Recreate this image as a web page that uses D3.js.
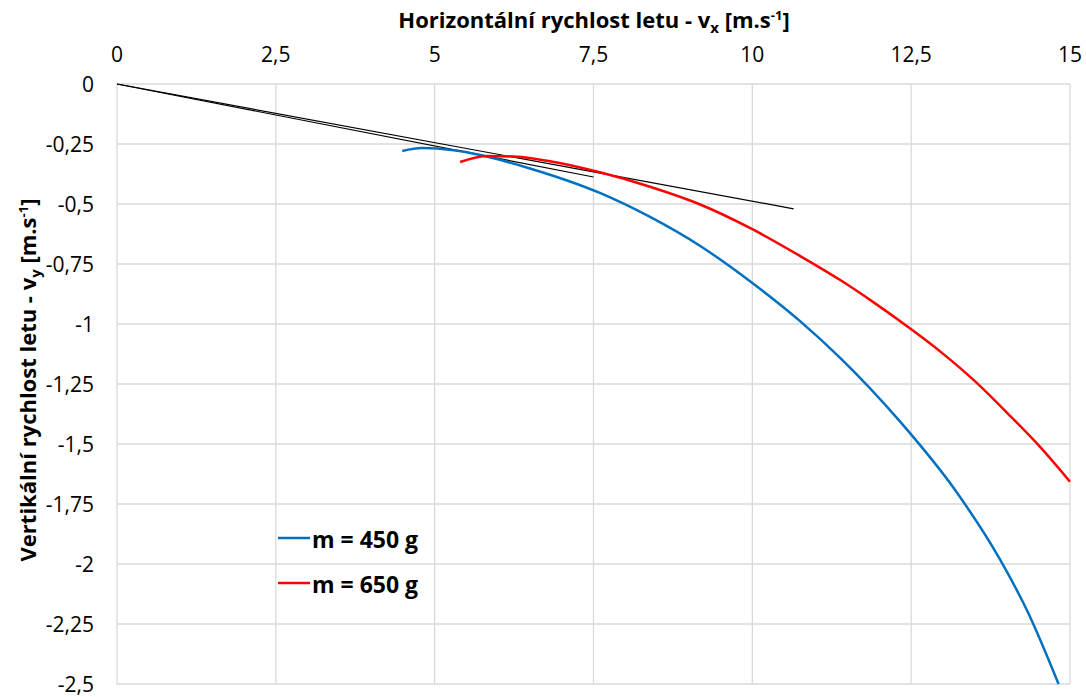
<!DOCTYPE html>
<html>
<head>
<meta charset="utf-8">
<script src="https://cdn.jsdelivr.net/npm/d3@7"></script>
<style>
  body { margin: 0; background: #fff; }
  text { font-family: "Open Sans", "Noto Sans", sans-serif; fill: #000; }
</style>
</head>
<body>
<svg id="chart" width="1086" height="697"></svg>
<script>
// data
const xTicks = [0, 2.5, 5, 7.5, 10, 12.5, 15];
const yTicks = [0, -0.25, -0.5, -0.75, -1, -1.25, -1.5, -1.75, -2, -2.25, -2.5];

const vx450 = [4.49, 4.8, 5.3, 5.72, 6.5, 7.6, 8.39, 9.18, 10.0, 10.76, 11.39, 12.33, 13.2, 13.9, 14.33, 14.82];
const vy450 = [-0.279, -0.267, -0.276, -0.296, -0.352, -0.454, -0.554, -0.675, -0.829, -0.99, -1.143, -1.408, -1.695, -1.982, -2.197, -2.5];

const vx650 = [5.4, 5.83, 6.3, 6.77, 7.6, 8.39, 9.18, 10.0, 10.76, 11.39, 11.91, 12.5, 12.96, 13.49, 14.01, 14.54, 15.0];
const vy650 = [-0.325, -0.30, -0.303, -0.32, -0.368, -0.428, -0.502, -0.605, -0.718, -0.818, -0.91, -1.022, -1.115, -1.235, -1.37, -1.515, -1.657];

// tangents from origin
const tangent450 = [[0, 0], [7.5, -0.3875]];
const tangent650 = [[0, 0], [10.65, -0.52]];

const legendLabels = ["m = 450 g", "m = 650 g"];
const colors = ["#0070c0", "#ff0000"];

const svg = d3.select("#chart");
const plotL = 117, plotR = 1070, plotT = 84, plotB = 684;

const x = d3.scaleLinear().domain([0, 15]).range([plotL, plotR]);
const y = d3.scaleLinear().domain([0, -2.5]).range([plotT, plotB]);

const loc = d3.formatLocale({ decimal: ",", thousands: " ", grouping: [3], currency: ["", ""], minus: "-" });
const fmt = (d) => loc.format("")(d);

// grid
svg.append("g").selectAll("line").data(xTicks).join("line")
  .attr("x1", (d) => x(d)).attr("x2", (d) => x(d))
  .attr("y1", plotT).attr("y2", plotB)
  .attr("stroke", "#d9d9d9").attr("stroke-width", 1.3);
svg.append("g").selectAll("line").data(yTicks).join("line")
  .attr("x1", plotL).attr("x2", plotR)
  .attr("y1", (d) => y(d)).attr("y2", (d) => y(d))
  .attr("stroke", "#d9d9d9").attr("stroke-width", 1.3);

// tick labels
svg.append("g").selectAll("text").data(xTicks).join("text")
  .attr("x", (d) => x(d)).attr("y", 62)
  .attr("text-anchor", "middle").attr("font-size", 21)
  .text(fmt);
svg.append("g").selectAll("text").data(yTicks).join("text")
  .attr("x", 94).attr("y", (d) => y(d) + 8)
  .attr("text-anchor", "end").attr("font-size", 21)
  .text(fmt);

// axis titles
const addTitle = (sel, main, sub) => {
  sel.append("tspan").text(main);
  sel.append("tspan").attr("font-size", 15).attr("dy", 5).text(sub);
  sel.append("tspan").attr("dy", -5).text(" [m.s");
  sel.append("tspan").attr("font-size", 13).attr("dy", -8).text("-1");
  sel.append("tspan").attr("dy", 8).text("]");
};

const xt = svg.append("text").attr("x", 594).attr("y", 28)
  .attr("text-anchor", "middle").attr("font-size", 22).attr("font-weight", "bold");
addTitle(xt, "Horizontální rychlost letu - v", "x");

const yt = svg.append("text").attr("transform", "translate(36,380) rotate(-90)")
  .attr("text-anchor", "middle").attr("font-size", 22).attr("font-weight", "bold");
addTitle(yt, "Vertikální rychlost letu - v", "y");

// lines
const line = d3.line().x((d) => x(d[0])).y((d) => y(d[1]));
const curve = d3.line().x((d) => x(d[0])).y((d) => y(d[1])).curve(d3.curveMonotoneX);

[tangent450, tangent650].forEach((t) => {
  svg.append("path").attr("d", line(t)).attr("fill", "none")
    .attr("stroke", "#000").attr("stroke-width", 1.2);
});

svg.append("path").attr("d", curve(d3.zip(vx450, vy450))).attr("fill", "none")
  .attr("stroke", colors[0]).attr("stroke-width", 2.5);
svg.append("path").attr("d", curve(d3.zip(vx650, vy650))).attr("fill", "none")
  .attr("stroke", colors[1]).attr("stroke-width", 2.5);

// legend
const legendY = [538, 583];
legendLabels.forEach((label, i) => {
  svg.append("line").attr("x1", 278).attr("x2", 310)
    .attr("y1", legendY[i]).attr("y2", legendY[i])
    .attr("stroke", colors[i]).attr("stroke-width", 2.5);
  svg.append("text").attr("x", 312).attr("y", legendY[i] + 10).attr("font-size", 23)
    .attr("font-weight", "bold").text(label);
});
</script>
</body>
</html>
